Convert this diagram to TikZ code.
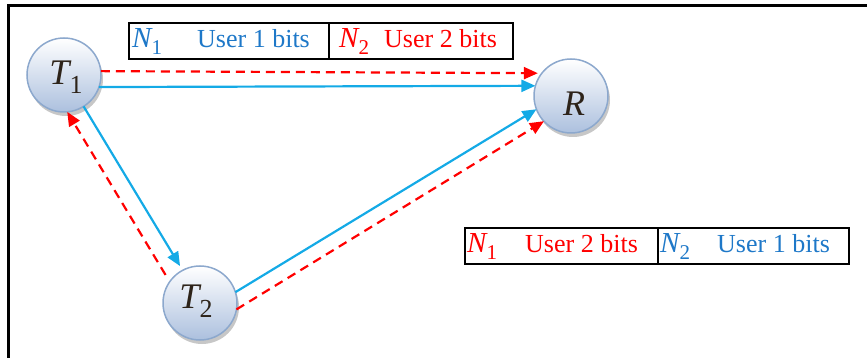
\RequirePackage{fix-cm}
\documentclass[tikz,border=0pt]{standalone}
\usepackage{fontspec}
\setmainfont{Liberation Serif}
\usetikzlibrary{arrows.meta,shadows}

\definecolor{linkblue}{RGB}{20,170,230}
\definecolor{textblue}{RGB}{30,120,200}
\definecolor{ringedge}{RGB}{140,168,205}
\definecolor{ringfill}{RGB}{172,192,222}
\definecolor{labelink}{RGB}{45,35,25}

% italic N with a large lowered index
\newcommand\Nidx[1]{{\fontsize{29}{29}\selectfont\itshape N}\raisebox{-7pt}{\fontsize{21}{21}\selectfont #1}}
% station name: italic letter with an optional lowered index
\newcommand\Stn[2]{{\fontsize{36}{36}\selectfont\itshape #1}\raisebox{-9pt}{\fontsize{26}{26}\selectfont #2}}

\begin{document}
\begin{tikzpicture}[x=1pt,y=-1pt,
  station/.style={circle, minimum size=74pt, inner sep=0pt, outer sep=0pt,
    draw=ringedge, line width=1.5pt, top color=white, bottom color=ringfill,
    drop shadow={shadow xshift=2pt, shadow yshift=-4pt, fill=black!55, opacity=0.4}},
  stlabel/.style={text=labelink, inner sep=0pt},
  cell/.style={draw=black, line width=2.2pt, inner sep=0pt, anchor=north west, minimum height=36pt},
  lbl/.style={anchor=base west, inner sep=0pt, font=\fontsize{26}{30}\selectfont},
  tip/.style={-{Triangle[length=14pt,width=12pt]}},
  upl/.style={tip, draw=linkblue, line width=2.2pt},
  dnl/.style={tip, draw=red, line width=2.2pt, dash pattern=on 9pt off 6pt}
]
\useasboundingbox (0,0) rectangle (867,358);

% outer frame (top and left edges)
\draw[line width=3pt] (8,358) -- (8,6) -- (867,6);

% frame layouts
\node[cell, minimum width=200pt] (fa1) at (128,22) {};
\node[cell, minimum width=184pt] (fa2) at (328,22) {};
\node[cell, minimum width=193pt] (fb1) at (464,227) {};
\node[cell, minimum width=191pt] (fb2) at (657,227) {};

\node[lbl, text=textblue] (fa1n) at (132,48) {\Nidx{1}};
\node[lbl, text=textblue] (fa1t) at (197,48) {User 1 bits};
\node[lbl, text=red] (fa2n) at (339,48) {\Nidx{2}};
\node[lbl, text=red] (fa2t) at (384,48) {User 2 bits};

\node[lbl, text=red] (fb1n) at (467,252) {\Nidx{1}};
\node[lbl, text=red] (fb1t) at (525,252) {User 2 bits};
\node[lbl, text=textblue] (fb2n) at (660,252) {\Nidx{2}};
\node[lbl, text=textblue] (fb2t) at (717,252) {User 1 bits};

% stations
\node[station] (T1) at (64,75) {};
\node[station] (T2) at (200,303) {};
\node[station] (R) at (571,96) {};
\node[stlabel] (T1l) at ([xshift=2pt,yshift=-2pt]T1.center) {\Stn{T}{1}};
\node[stlabel] (T2l) at ([xshift=-4pt,yshift=2pt]T2.center) {\Stn{T}{2}};
\node[stlabel] (Rl) at ([xshift=3pt,yshift=-12pt]R.center) {\Stn{R}{}};

% links
\draw[dnl, shorten >=4pt] (T1.6) -- (R.142);
\draw[upl] (T1.-19) -- (R.164);
\draw[upl, shorten >=5pt] (T1.-58) -- (T2.118);
\draw[dnl, shorten <=8pt] (T2.145) -- (T1.-85);
\draw[upl] (T2.17) -- (R.201);
\draw[dnl] (T2.-10) -- (R.223);
\end{tikzpicture}
\end{document}
